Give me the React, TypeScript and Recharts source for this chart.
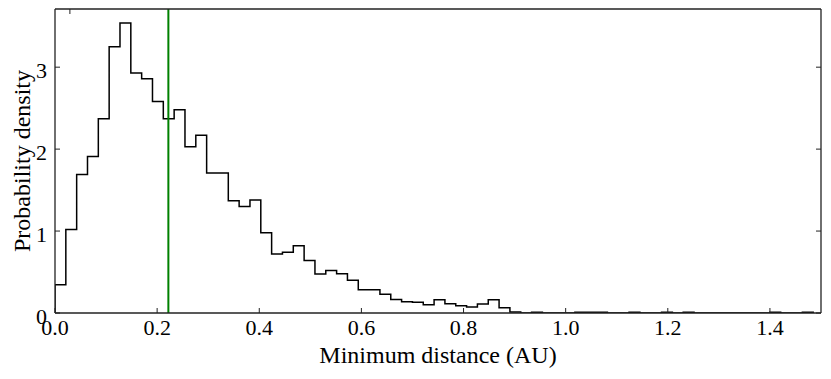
import React from 'react';
import { ComposedChart, Line, XAxis, YAxis, ReferenceLine } from 'recharts';

// Histogram of minimum distance (AU): 70 bins starting at 0
const binWidth = 0.02121;
const density = [
  0.345, 1.02, 1.69, 1.91, 2.37, 3.25, 3.54, 2.93, 2.86, 2.58,
  2.37, 2.48, 2.03, 2.17, 1.71, 1.71, 1.37, 1.30, 1.38, 0.98,
  0.72, 0.74, 0.82, 0.64, 0.475, 0.52, 0.48, 0.40, 0.284, 0.284,
  0.23, 0.165, 0.137, 0.13, 0.10, 0.162, 0.113, 0.089, 0.073, 0.11,
  0.162, 0.065, 0.012, 0, 0.008, 0, 0, 0, 0.008, 0.008,
  0.008, 0, 0, 0.008, 0, 0, 0.008, 0, 0.008, 0,
  0, 0, 0, 0, 0, 0, 0.008, 0, 0, 0.008,
];
const markerX = 0.222;
const xTicks = [0, 0.2, 0.4, 0.6, 0.8, 1.0, 1.2, 1.4];
const yTicks = [0, 1, 2, 3];
const xLabel = 'Minimum distance (AU)';
const yLabel = 'Probability density';

const stepData = (() => {
  const pts: { x: number; y: number }[] = [{ x: 0, y: 0 }];
  density.forEach((v, i) => pts.push({ x: i * binWidth, y: v }));
  const end = density.length * binWidth;
  pts.push({ x: end, y: density[density.length - 1] });
  pts.push({ x: end, y: 0 });
  return pts;
})();

const FONT = "'Liberation Serif', 'DejaVu Serif', serif";
const txtStyle = { fontFamily: FONT };
const AX = '#222';
const TL = 5;

const BottomTick = (p: any) => (
  <g>
    <line x1={p.x} x2={p.x} y1={p.y} y2={p.y - TL} stroke={AX} strokeWidth={1} />
    <text x={p.x} y={p.y + 22} textAnchor="middle" fontSize={22} style={txtStyle} fill="#000">
      {Number(p.payload.value).toFixed(1)}
    </text>
  </g>
);
const TopTick = (p: any) => (
  <line x1={p.x} x2={p.x} y1={p.y} y2={p.y + TL} stroke={AX} strokeWidth={1} />
);
const LeftTick = (p: any) => (
  <g>
    <line x1={p.x} x2={p.x + TL} y1={p.y} y2={p.y} stroke={AX} strokeWidth={1} />
    <text x={p.x - 8} y={p.y + 10.5} textAnchor="end" fontSize={22} style={txtStyle} fill="#000">
      {String(p.payload.value)}
    </text>
  </g>
);
const RightTick = (p: any) => (
  <line x1={p.x} x2={p.x - TL} y1={p.y} y2={p.y} stroke={AX} strokeWidth={1} />
);

const XTitle = (p: any) => {
  const vb = p.viewBox || { x: 55, width: 766 };
  return (
    <text x={vb.x + vb.width / 2} y={363} textAnchor="middle" fontSize={24} style={txtStyle} fill="#000">
      {xLabel}
    </text>
  );
};
const YTitle = (p: any) => {
  const vb = p.viewBox || { y: 9, height: 304 };
  const cy = vb.y + vb.height / 2;
  return (
    <text x={30} y={cy} transform={`rotate(-90, 30, ${cy})`} textAnchor="middle" fontSize={24} style={txtStyle} fill="#000">
      {yLabel}
    </text>
  );
};

export default function App() {
  return (
    <div style={{ position: 'absolute', left: 0, top: 0, width: 831, height: 379, background: '#fff' }}>
      <ComposedChart width={831} height={379} data={stepData} margin={{ top: 8, right: 9, bottom: 0, left: 0 }}>
        <XAxis
          xAxisId="b"
          dataKey="x"
          type="number"
          domain={[0, 1.5]}
          ticks={xTicks}
          allowDataOverflow
          height={66}
          tickSize={0}
          tickMargin={0}
          tickLine={false}
          tick={<BottomTick />}
          axisLine={{ stroke: AX, strokeWidth: 1.3 }}
          label={<XTitle />}
        />
        <XAxis
          xAxisId="t"
          orientation="top"
          type="number"
          domain={[0, 1.5]}
          ticks={xTicks}
          allowDataOverflow
          height={1}
          tickSize={0}
          tickMargin={0}
          tickLine={false}
          tick={<TopTick />}
          axisLine={{ stroke: AX, strokeWidth: 1.3 }}
        />
        <YAxis
          yAxisId="l"
          type="number"
          domain={[0, 3.71]}
          ticks={yTicks}
          allowDataOverflow
          width={55}
          tickSize={0}
          tickMargin={0}
          tickLine={false}
          tick={<LeftTick />}
          axisLine={{ stroke: AX, strokeWidth: 1.3 }}
          label={<YTitle />}
        />
        <YAxis
          yAxisId="r"
          orientation="right"
          type="number"
          domain={[0, 3.71]}
          ticks={yTicks}
          allowDataOverflow
          width={1}
          tickSize={0}
          tickMargin={0}
          tickLine={false}
          tick={<RightTick />}
          axisLine={{ stroke: AX, strokeWidth: 1.3 }}
        />
        <Line
          xAxisId="b"
          yAxisId="l"
          dataKey="y"
          type="stepAfter"
          stroke="#000"
          strokeWidth={1.5}
          dot={false}
          activeDot={false}
          isAnimationActive={false}
        />
        <Line
          xAxisId="t"
          yAxisId="r"
          dataKey="y"
          type="stepAfter"
          stroke="none"
          dot={false}
          activeDot={false}
          isAnimationActive={false}
        />
        <ReferenceLine xAxisId="b" yAxisId="l" x={markerX} stroke="#008000" strokeWidth={2} />
      </ComposedChart>
    </div>
  );
}
